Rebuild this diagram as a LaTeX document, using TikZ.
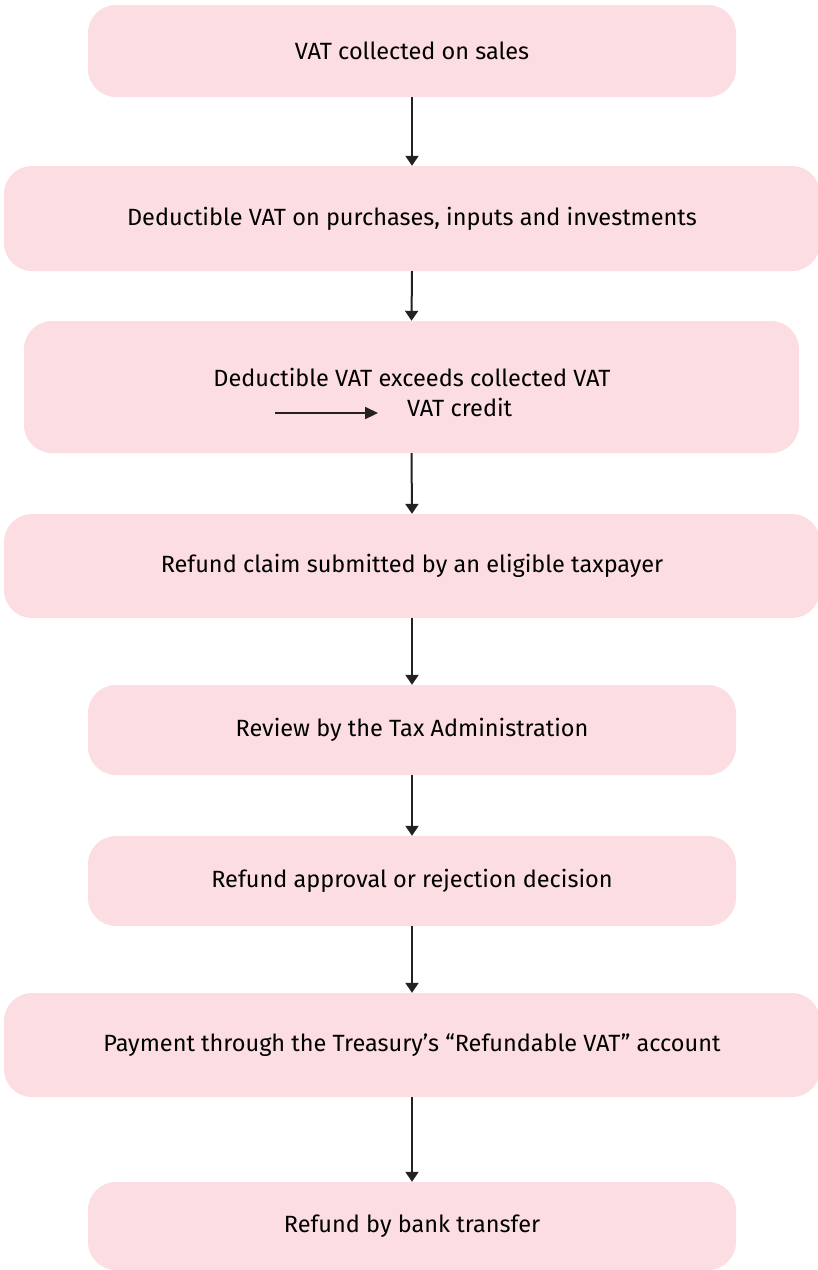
\documentclass[tikz,border=0pt]{standalone}
\usepackage{fontspec}
\setmainfont{Fira Sans}
\usetikzlibrary{arrows.meta}
\definecolor{boxpink}{RGB}{251,221,226}
\definecolor{arrowdark}{RGB}{34,34,34}
\tikzset{
  flowbox/.style={draw=none, fill=boxpink, rounded corners=28pt, inner sep=0pt,
    font=\fontsize{23.5}{28}\selectfont, text=black},
  flowarrow/.style={draw=arrowdark, line width=2pt, -{Triangle[width=13pt,length=10pt]}},
  innerarrow/.style={draw=arrowdark, line width=2.2pt, -{Triangle[width=12pt,length=13pt]}},
  plaintext/.style={inner sep=0pt, font=\fontsize{23.5}{28}\selectfont, text=black},
}
\begin{document}
\begin{tikzpicture}[x=1pt,y=-1pt]
\useasboundingbox (0,0) rectangle (818,1270);
\node[flowbox, minimum width=648pt, minimum height=92pt] (b1) at (412,51) {VAT collected on sales};
\node[flowbox, minimum width=816pt, minimum height=105pt] (b2) at (412,218.5) {Deductible VAT on purchases, inputs and investments};
\node[flowbox, minimum width=775pt, minimum height=132pt] (b3) at (411.5,387) {};
\node[plaintext, anchor=base] (t3a) at (412,386.7) {Deductible VAT exceeds collected VAT};
\node[plaintext, anchor=base west] (t3b) at (407,416.7) {VAT credit};
\coordinate (ia) at (275,413);
\coordinate (ib) at (378,413);
\draw[innerarrow] (ia) -- (ib);
\node[flowbox, minimum width=816pt, minimum height=104pt] (b4) at (412,566) {Refund claim submitted by an eligible taxpayer};
\node[flowbox, minimum width=648pt, minimum height=90pt] (b5) at (412,730) {Review by the Tax Administration};
\node[flowbox, minimum width=648pt, minimum height=90pt] (b6) at (412,881) {Refund approval or rejection decision};
\node[flowbox, minimum width=816pt, minimum height=104pt] (b7) at (412,1045) {Payment through the Treasury’s “Refundable VAT” account};
\node[flowbox, minimum width=648pt, minimum height=88pt] (b8) at (412,1226) {Refund by bank transfer};
\draw[flowarrow] (b1.south) -- (b2.north);
\draw[flowarrow] (b2.south) -- (b3.north);
\draw[flowarrow] (b3.south) -- (b4.north);
\draw[flowarrow] (b4.south) -- (b5.north);
\draw[flowarrow] (b5.south) -- (b6.north);
\draw[flowarrow] (b6.south) -- (b7.north);
\draw[flowarrow] (b7.south) -- (b8.north);
\end{tikzpicture}
\end{document}
